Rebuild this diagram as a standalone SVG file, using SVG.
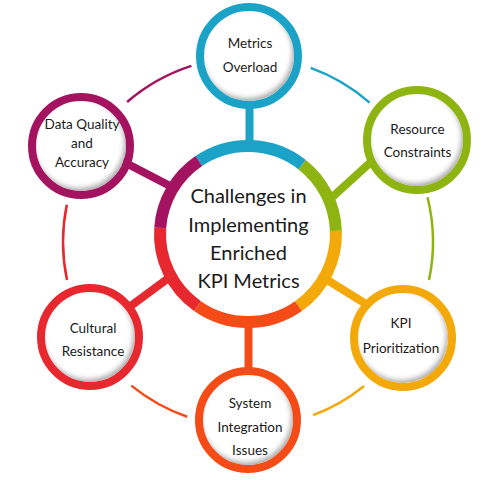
<svg xmlns="http://www.w3.org/2000/svg" width="500" height="480" viewBox="0 0 500 480">
<defs>
<style>
.t{font-family:Lato,"Open Sans","Liberation Sans",sans-serif;fill:#1a1a1a;text-anchor:middle}
.n{font-size:13.5px}
.c{font-size:20px}
.disk{fill:#fff}
.ring{fill:none;stroke-width:8}
.seg{fill:none;stroke-width:12;stroke-linecap:butt}
.arc{fill:none;stroke-width:2.5}
.spoke{stroke-width:8;stroke-linecap:butt}
</style>
<filter id="inset" x="-20%" y="-20%" width="140%" height="140%">
<feFlood flood-color="#000" flood-opacity="0.6" result="f"/>
<feComposite in="f" in2="SourceAlpha" operator="out" result="inv"/>
<feGaussianBlur in="inv" stdDeviation="2.5" result="b"/>
<feOffset in="b" dx="-2" dy="-3" result="o"/>
<feComposite in="o" in2="SourceAlpha" operator="in" result="s"/>
<feMerge><feMergeNode in="SourceGraphic"/><feMergeNode in="s"/></feMerge>
</filter>
</defs>
<rect width="500" height="480" fill="#fff"/>

<g id="connectors">
<path class="arc" stroke="#1aa3c7" d="M310.7,67.9 A185,185 0 0 1 369.6,102.6"/>
<path class="arc" stroke="#8db410" d="M427.5,197.2 A185,185 0 0 1 429,280.1"/>
<path class="arc" stroke="#f4a90a" d="M364.2,386 A185,185 0 0 1 313.1,415.2"/>
<path class="arc" stroke="#f54b16" d="M187.2,416.7 A185,185 0 0 1 131.3,385.6"/>
<path class="arc" stroke="#e8282f" d="M67,280.1 A185,185 0 0 1 66.8,204.8"/>
<path class="arc" stroke="#a3135f" d="M127.1,102 A185,185 0 0 1 191.4,65.9"/>
<line class="spoke" stroke="#1aa3c7" x1="249.5" y1="104" x2="249.5" y2="146"/>
<line class="spoke" stroke="#a3135f" x1="122" y1="161" x2="172" y2="187"/>
<line class="spoke" stroke="#8db410" x1="328" y1="201" x2="372" y2="161"/>
<line class="spoke" stroke="#f4a90a" x1="316" y1="273" x2="366" y2="304"/>
<line class="spoke" stroke="#f54b16" x1="248.5" y1="320" x2="248.5" y2="372"/>
<line class="spoke" stroke="#e8282f" x1="128" y1="308" x2="174" y2="274"/>
</g>

<g id="center">
<circle cx="248" cy="234" r="86" class="disk"/>
<path class="seg" stroke="#1aa3c7" d="M198.8,161 A88,88 0 0 1 302.2,164.7"/>
<path class="seg" stroke="#8db410" d="M302.2,164.7 A88,88 0 0 1 335.9,230.9"/>
<path class="seg" stroke="#f4a90a" d="M335.9,230.9 A88,88 0 0 1 298.5,306.1"/>
<path class="seg" stroke="#f54b16" d="M298.5,306.1 A88,88 0 0 1 197.5,306.1"/>
<path class="seg" stroke="#e8282f" d="M197.5,306.1 A88,88 0 0 1 160.2,227.9"/>
<path class="seg" stroke="#a3135f" d="M160.2,227.9 A88,88 0 0 1 198.8,161"/>
<text class="t c" x="248.5" y="203">Challenges in</text>
<text class="t c" x="248.5" y="232">Implementing</text>
<text class="t c" x="248.5" y="260">Enriched</text>
<text class="t c" x="248.5" y="288">KPI Metrics</text>
</g>

<g id="metrics-overload">
<circle cx="249" cy="56" r="45" class="disk" filter="url(#inset)"/>
<circle cx="249" cy="56" r="49" class="ring" stroke="#1aa3c7"/>
<text class="t n" x="250" y="48">Metrics</text>
<text class="t n" x="250" y="72">Overload</text>
</g>

<g id="resource-constraints">
<circle cx="417" cy="140" r="46" class="disk" filter="url(#inset)"/>
<circle cx="417" cy="140" r="50" class="ring" stroke="#8db410"/>
<text class="t n" x="417.5" y="134">Resource</text>
<text class="t n" x="417.5" y="157">Constraints</text>
</g>

<g id="kpi-prioritization">
<circle cx="403" cy="338" r="45" class="disk" filter="url(#inset)"/>
<circle cx="403" cy="338" r="49" class="ring" stroke="#f4a90a"/>
<text class="t n" x="401" y="328">KPI</text>
<text class="t n" x="401" y="353">Prioritization</text>
</g>

<g id="system-integration-issues">
<circle cx="248" cy="420" r="45" class="disk" filter="url(#inset)"/>
<circle cx="248" cy="420" r="49" class="ring" stroke="#f54b16"/>
<text class="t n" x="250" y="408">System</text>
<text class="t n" x="250" y="432">Integration</text>
<text class="t n" x="250" y="455">Issues</text>
</g>

<g id="cultural-resistance">
<circle cx="90" cy="337" r="45" class="disk" filter="url(#inset)"/>
<circle cx="90" cy="337" r="49" class="ring" stroke="#e8282f"/>
<text class="t n" x="93" y="333">Cultural</text>
<text class="t n" x="93" y="356">Resistance</text>
</g>

<g id="data-quality-and-accuracy">
<circle cx="81" cy="146" r="45" class="disk" filter="url(#inset)"/>
<circle cx="81" cy="146" r="49" class="ring" stroke="#a3135f"/>
<text class="t n" x="82" y="129">Data Quality</text>
<text class="t n" x="82" y="148">and</text>
<text class="t n" x="82" y="167">Accuracy</text>
</g>
</svg>
